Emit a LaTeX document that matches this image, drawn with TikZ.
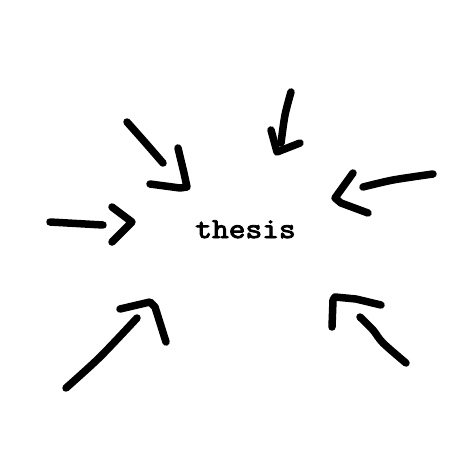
\documentclass[tikz,border=0pt]{standalone}
\usepackage{fontspec}
\newfontfamily\thesisfont[FakeBold=3]{Latin Modern Mono}
\begin{document}
\begin{tikzpicture}[x=1pt,y=-1pt,
  stroke/.style={line width=7.5pt,line cap=round,line join=round,black},
  label/.style={font=\thesisfont\fontsize{29}{29}\selectfont,inner sep=0pt,xscale=1.12}]
\useasboundingbox[fill=white] (0,0) rectangle (474,474);
\node[label,anchor=base] (thesis) at (245.5,238) {thesis};
% arrow 1 (top-left)
\coordinate (a1s) at (127,122);
\coordinate (a1t) at (187,187);
\draw[stroke] plot[smooth] coordinates {(a1s) (143,140) (163,163)};
\draw[stroke] (150,184) -- (180,188) -- (a1t) -- (184,173) -- (178,148);
% arrow 2 (top)
\coordinate (a2s) at (291,92);
\coordinate (a2t) at (277,152);
\draw[stroke] plot[smooth] coordinates {(a2s) (285,115) (281,143)};
\draw[stroke] (271,130) -- (a2t) -- (300,143);
% arrow 3 (right)
\coordinate (a3s) at (433,174);
\coordinate (a3t) at (335,198);
\draw[stroke] plot[smooth] coordinates {(a3s) (393,180) (363,187)};
\draw[stroke] (353,173) -- (a3t) -- (341,203) -- (368,213);
% arrow 4 (left)
\coordinate (a4s) at (50,222);
\coordinate (a4t) at (132,222);
\draw[stroke] (a4s) -- (103,225);
\draw[stroke] (112,207) -- (a4t) -- (112,242);
% arrow 5 (bottom-left)
\coordinate (a5s) at (66,388);
\coordinate (a5t) at (150,302);
\draw[stroke] plot[smooth] coordinates {(a5s) (100,357) (137,318)};
\draw[stroke] (120,309) -- (a5t) -- (155,307) -- (166,342);
% arrow 6 (bottom-right)
\coordinate (a6s) at (406,363);
\coordinate (a6t) at (335,297);
\draw[stroke] plot[smooth] coordinates {(a6s) (383,343) (373,330) (360,317)};
\draw[stroke] (332,327) -- (333,300) -- (a6t) -- (356,299) -- (381,305);
\end{tikzpicture}
\end{document}
